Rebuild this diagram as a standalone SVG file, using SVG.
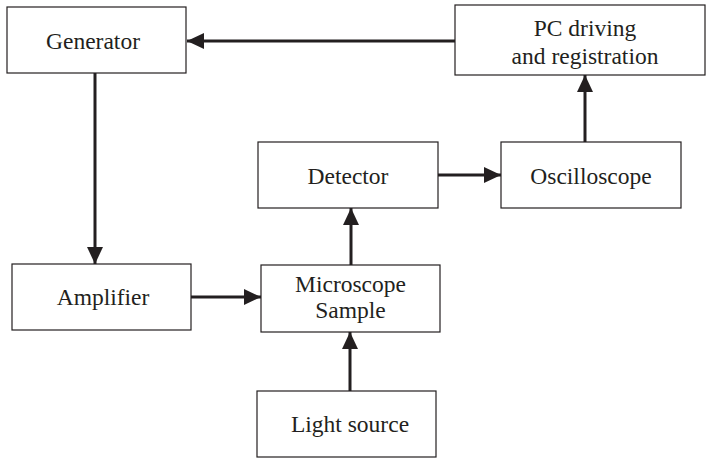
<svg xmlns="http://www.w3.org/2000/svg" width="707" height="458" viewBox="0 0 707 458">
<defs>
<style>
.box{fill:#fff;stroke:#231f20;stroke-width:1.2}
.lbl{font-family:"Liberation Serif","Times New Roman",serif;font-size:23.5px;fill:#231f20;text-anchor:middle}
.conn{stroke:#231f20;stroke-width:3;fill:none}
</style>
<marker id="ah" markerWidth="18" markerHeight="16" refX="17" refY="8" orient="auto" markerUnits="userSpaceOnUse">
<path d="M0,0 L17,8 L0,16 Z" fill="#231f20"/>
</marker>
</defs>
<rect width="707" height="458" fill="#fff"/>
<g id="connectors">
<line class="conn" x1="455" y1="41" x2="187" y2="41" marker-end="url(#ah)"/>
<line class="conn" x1="95" y1="73" x2="95" y2="264" marker-end="url(#ah)"/>
<line class="conn" x1="191" y1="297" x2="261" y2="297" marker-end="url(#ah)"/>
<line class="conn" x1="350" y1="391" x2="350" y2="332" marker-end="url(#ah)"/>
<line class="conn" x1="351" y1="265" x2="351" y2="208" marker-end="url(#ah)"/>
<line class="conn" x1="438" y1="175" x2="501" y2="175" marker-end="url(#ah)"/>
<line class="conn" x1="585" y1="142" x2="585" y2="75" marker-end="url(#ah)"/>
</g>
<g id="generator">
<rect class="box" x="7" y="7" width="179" height="66"/>
<text class="lbl" x="93" y="49">Generator</text>
</g>
<g id="pc">
<rect class="box" x="455" y="5" width="250" height="70"/>
<text class="lbl" x="585" y="36">PC driving</text>
<text class="lbl" x="585" y="64">and registration</text>
</g>
<g id="detector">
<rect class="box" x="258" y="142" width="180" height="66"/>
<text class="lbl" x="348" y="184">Detector</text>
</g>
<g id="oscilloscope">
<rect class="box" x="501" y="142" width="180" height="66"/>
<text class="lbl" x="591" y="184">Oscilloscope</text>
</g>
<g id="amplifier">
<rect class="box" x="12" y="264" width="179" height="66"/>
<text class="lbl" x="103" y="305">Amplifier</text>
</g>
<g id="microscope">
<rect class="box" x="261" y="265" width="179" height="67"/>
<text class="lbl" x="350.5" y="292">Microscope</text>
<text class="lbl" x="350.5" y="318">Sample</text>
</g>
<g id="light">
<rect class="box" x="257" y="391" width="179" height="66"/>
<text class="lbl" x="350" y="432">Light source</text>
</g>
</svg>
